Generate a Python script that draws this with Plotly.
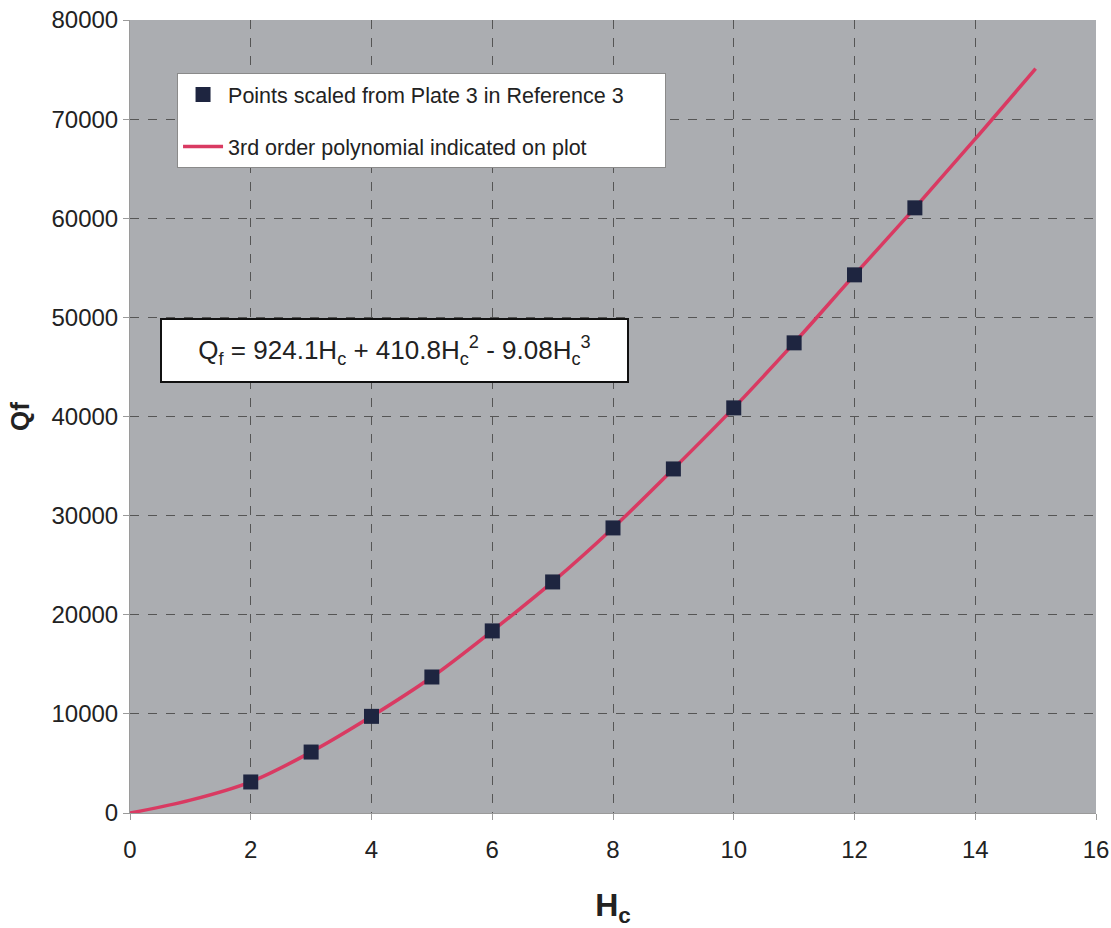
import plotly.graph_objects as go

# Data
point_x = [2, 3, 4, 5, 6, 7, 8, 9, 10, 11, 12, 13]
point_y = [3130, 6150, 9750, 13720, 18370, 23310, 28760, 34710, 40870, 47430, 54290, 61050]

curve_x = [0, 1, 2, 3, 4, 5, 6, 7, 8, 9, 10, 11, 12, 13, 14, 15]
curve_y = [0, 1300, 3150, 6150, 9750, 13720, 18370, 23310, 28760, 34710, 40870, 47430, 54290, 61050, 68000, 75100]

x_ticks = [0, 2, 4, 6, 8, 10, 12, 14, 16]
y_ticks = [0, 10000, 20000, 30000, 40000, 50000, 60000, 70000, 80000]

FONT = "Liberation Sans, Arial, sans-serif"

fig = go.Figure()
fig.add_trace(go.Scatter(
    x=point_x, y=point_y, mode="markers",
    name="Points scaled from Plate 3 in Reference 3" + "\u00a0" * 6,
    marker=dict(symbol="square", size=15, color="#1e2540",
                line=dict(width=0)),
    legendgroup="a", legendrank=1,
))
fig.add_trace(go.Scatter(
    x=curve_x, y=curve_y, mode="lines",
    name="3rd order polynomial indicated on plot",
    line=dict(color="#d93a62", width=3.5, shape="spline"),
    legendgroup="b", legendrank=2,
))
# keep markers drawn on top of the line
fig.data = (fig.data[1], fig.data[0])

fig.update_layout(
    width=1111, height=928,
    margin=dict(l=130, r=15, t=20, b=115, autoexpand=False),
    paper_bgcolor="white",
    plot_bgcolor="#abadb1",
    font=dict(family=FONT, size=24, color="#222222"),
    showlegend=True,
    legend=dict(
        x=0.0487, y=0.933, xanchor="left", yanchor="top",
        bgcolor="white", bordercolor="#8a8a8a", borderwidth=1,
        font=dict(family=FONT, size=21.5, color="#222222"),
        traceorder="grouped", tracegroupgap=21,
        itemwidth=40,
    ),
    xaxis=dict(
        range=[0, 16], tickvals=x_ticks, ticktext=[str(v) for v in x_ticks],
        showgrid=True, gridcolor="#555555", griddash="dash", gridwidth=1,
        zeroline=False, showline=True, linecolor="#9a9a9a", linewidth=1,
        ticks="outside", ticklen=6, tickcolor="#9a9a9a",
        tickfont=dict(size=24), automargin=False, ticklabelstandoff=9,
        title=dict(text="<b>H<sub>c</sub></b>", font=dict(size=32), standoff=36),
    ),
    yaxis=dict(
        range=[0, 80000], tickvals=y_ticks, ticktext=[str(v) for v in y_ticks],
        showgrid=True, gridcolor="#555555", griddash="dash", gridwidth=1,
        zeroline=False, showline=True, linecolor="#9a9a9a", linewidth=1,
        ticks="outside", ticklen=6, tickcolor="#9a9a9a",
        tickfont=dict(size=24), automargin=False,
        title=dict(text="<b>Qf</b>", font=dict(size=26), standoff=14),
    ),
    annotations=[dict(
        xref="paper", yref="paper", x=0.274, y=0.583,
        xanchor="center", yanchor="middle",
        text="Q<sub>f</sub> = 924.1H<sub>c</sub> + 410.8H<sub>c</sub><sup>2</sup> - 9.08H<sub>c</sub><sup>3</sup>",
        showarrow=False, font=dict(family=FONT, size=26, color="#222222"),
        bgcolor="white", bordercolor="#111111", borderwidth=2,
        width=463, height=59, align="center",
    )],
)

fig.write_html(
    "out.html",
    config={"displayModeBar": False},
    post_script="document.body.style.margin='0';document.body.style.overflow='hidden';",
)
